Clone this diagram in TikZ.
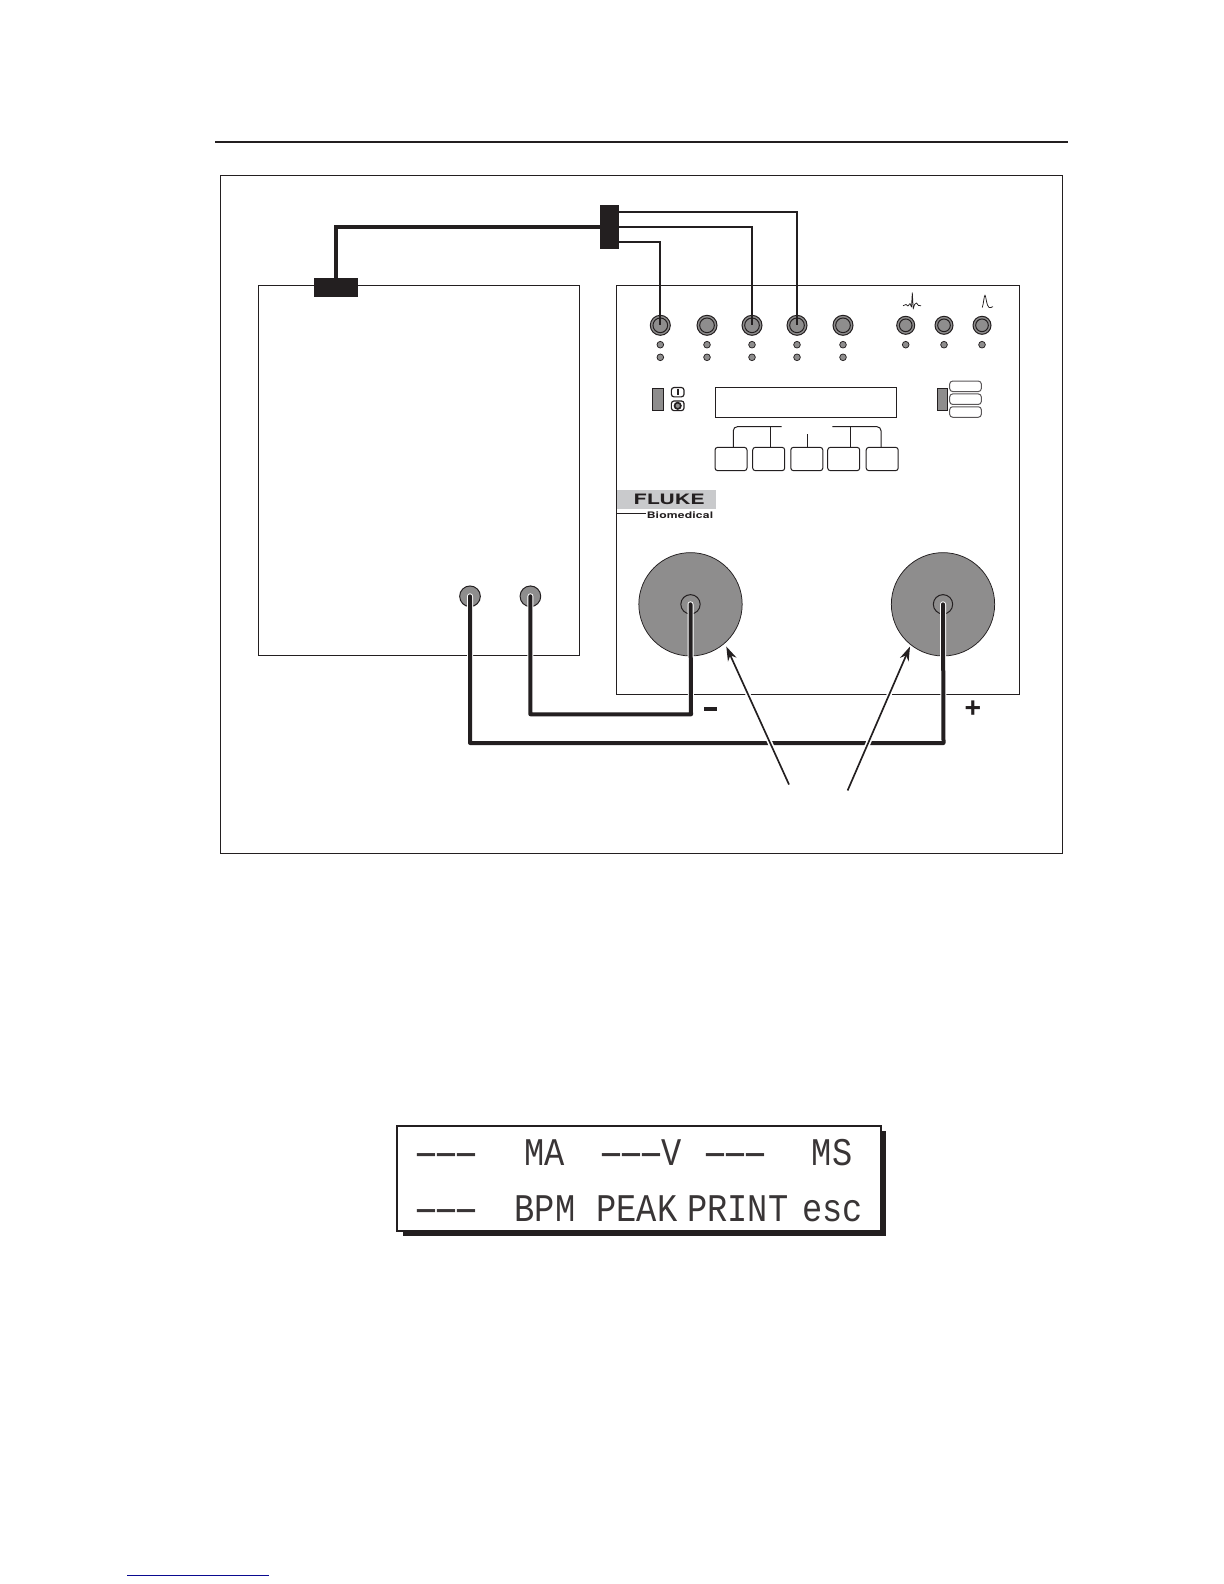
\documentclass[tikz,border=0pt]{standalone}
\usepackage{fontspec}
\usetikzlibrary{arrows.meta,calc}
\setmainfont{Liberation Sans}
\newfontfamily\lcdfont[FakeStretch=0.86]{Liberation Mono}
\newfontfamily\lcddashfont[FakeStretch=1.7]{Liberation Mono}
\newfontfamily\logofont[FakeStretch=1.5]{TeX Gyre Heros}
\newfontfamily\biofont[FakeStretch=1.35,LetterSpace=2]{TeX Gyre Heros}
\newcommand{\lcddash}{\makebox[12pt][c]{\lcddashfont-}}
\newcommand{\lcddashes}{\lcddash\lcddash\lcddash}
\definecolor{ink}{HTML}{231F20}
\definecolor{metal}{HTML}{8E8D8D}
\definecolor{logobg}{HTML}{C9CACC}
\definecolor{linkblue}{HTML}{0A0A90}
\tikzset{
  hair/.style={draw=ink,line width=0.6pt},
  wirethin/.style={draw=ink,line width=1.15pt,line join=miter},
  wirethick/.style={draw=ink,line width=2.4pt,line join=miter},
  wirelead/.style={draw=ink,line width=2.4pt,line join=round,line cap=round},
  halo/.style={draw=white,line width=3.6pt,line join=round,line cap=round},
  pod/.style={rectangle,fill=ink,draw=none,inner sep=0pt},
  jackbig/.style={circle,draw=ink,line width=0.6pt,fill=metal,minimum size=12pt,inner sep=0pt},
  jackring/.style={circle,draw=ink,line width=0.6pt,fill=none,minimum size=8.8pt,inner sep=0pt},
  jacksmall/.style={circle,draw=ink,line width=0.6pt,fill=metal,minimum size=10.8pt,inner sep=0pt},
  jackringsmall/.style={circle,draw=ink,line width=0.6pt,fill=none,minimum size=7.6pt,inner sep=0pt},
  led/.style={circle,draw=ink,line width=0.45pt,fill=metal,minimum size=4pt,inner sep=0pt},
  softkey/.style={rectangle,rounded corners=1.6pt,draw=ink,line width=0.6pt,minimum width=19.2pt,minimum height=14pt,inner sep=0pt},
  pill/.style={rectangle,rounded corners=1.8pt,draw=ink!75,line width=0.6pt,minimum width=19pt,minimum height=6.3pt,inner sep=0pt},
  switch/.style={rectangle,draw=ink,line width=0.6pt,fill=metal,inner sep=0pt},
  post/.style={circle,draw=ink,line width=0.6pt,fill=metal,minimum size=12.4pt,inner sep=0pt},
  pad/.style={circle,draw=ink,line width=0.45pt,fill=metal,minimum size=62pt,inner sep=0pt},
  padcore/.style={circle,draw=ink,line width=0.6pt,fill=metal,minimum size=11.6pt,inner sep=0pt},
  lcdtext/.style={anchor=base,inner sep=0pt,text=ink!90,font=\lcdfont\fontsize{23.5pt}{24pt}\selectfont},
  sign/.style={inner sep=0pt,text=ink,font=\bfseries\fontsize{17pt}{18pt}\selectfont},
  pointer/.style={draw=ink,line width=1pt,-{Stealth[length=8.6pt,width=5.6pt]}},
  pointerhalo/.style={draw=white,line width=3pt},
}
\begin{document}
\begin{tikzpicture}[x=0.6pt,y=-0.6pt]
\useasboundingbox (0,0) rectangle (1224,1584);
\fill[white] (0,0) rectangle (1224,1584);

% header rule and frame
\draw[draw=ink,line width=1.2pt] (215,142.4) -- (1068,142.4);
\draw[hair] (220.3,175.8) rectangle (1062.7,853.6);

% device boxes
\draw[hair] (258.6,285.5) rectangle (579.6,655.6);
\draw[hair] (616.8,285.5) rectangle (1019.5,694.5);

% front panel jacks
\foreach \n/\x in {1/660.3,2/707,3/752,4/797,5/843}{
  \node[jackbig] (j\n) at (\x,325.3) {};
  \node[jackring] (r\n) at (\x,325.3) {};
  \node[led] (la\n) at (\x,344.7) {};
  \node[led] (lb\n) at (\x,357.3) {};
}
\foreach \n/\x in {6/905.7,7/944,8/982}{
  \node[jacksmall] (j\n) at (\x,325.3) {};
  \node[jackringsmall] (r\n) at (\x,325.3) {};
  \node[led] (la\n) at (\x,344.7) {};
}
% waveform glyphs
\draw[draw=ink,line width=0.45pt,line join=round] (903,305.7) -- (906,304.5) -- (908,306) -- (910,303.5) -- (911.5,307) -- (912.3,292.7) -- (913.2,309) -- (914.5,304.5) -- (916.5,303) -- (918.5,305.5) -- (921,305.7);
\draw[draw=ink,line width=0.45pt,line join=round] (982.3,307.5) .. controls (983.5,304) and (984,296) .. (985,295) .. controls (986,296) and (986.5,306) .. (989,307.5) .. controls (990,308) and (991,307.6) .. (993,306.6);

% power switch
\draw[switch] (652.3,388.3) rectangle (663.7,410.7);
\node[rectangle,rounded corners=1.6pt,draw=ink,line width=0.7pt,minimum width=7.6pt,minimum height=5.6pt,inner sep=0pt] (pwon) at (677.7,392.2) {};
\node[rectangle,rounded corners=1.6pt,draw=ink,line width=0.7pt,minimum width=7.6pt,minimum height=5.8pt,inner sep=0pt] (pwoff) at (677.7,405.8) {};
\draw[draw=ink,line width=1pt] (677.7,389) -- (677.7,395.4);
\node[circle,draw=ink,line width=1pt,fill=metal,minimum size=3.8pt,inner sep=0pt] (pwdot) at (677.7,405.8) {};

% display
\draw[hair] (715.3,387.3) rectangle (896.7,417.3);

% mode switch and pills
\draw[switch] (937.7,388.3) rectangle (947.7,410.7);
\node[pill] (p1) at (965.5,386.3) {};
\node[pill] (p2) at (965.5,399.2) {};
\node[pill] (p3) at (965.5,412) {};

% soft keys
\node[softkey] (k1) at (731,459) {};
\node[softkey] (k2) at (768.7,459) {};
\node[softkey] (k3) at (806.8,459) {};
\node[softkey] (k4) at (843.7,459) {};
\node[softkey] (k5) at (882.2,459) {};
\coordinate (bl) at (781.7,426.7);
\coordinate (br) at (832.3,426.7);
\coordinate (km) at (807.3,434);
\draw[hair,rounded corners=2.4pt] (k1.north -| 733.3,0) -- (733.3,426.7) -- (bl);
\draw[hair] (770,426.7) -- (k2.north -| 770,0);
\draw[hair] (km) -- (k3.north -| km);
\draw[hair,rounded corners=2.4pt] (br) -- (881,426.7) -- (k5.north -| 881,0);
\draw[hair] (850,426.7) -- (k4.north -| 850,0);

% logo
\fill[logobg] (617.3,490) rectangle (716,509.3);
\node[inner sep=0pt,anchor=base,text=ink,font=\logofont\bfseries\fontsize{8.6pt}{9pt}\selectfont] (fluke) at (669.2,504.4) {FLUKE};
\draw[draw=ink,line width=0.6pt] (617.3,513.4) -- (645.7,513.4);
\node[inner sep=0pt,anchor=base,text=ink,font=\biofont\bfseries\fontsize{5.4pt}{6pt}\selectfont] (bio) at (680,518.4) {Biomedical};

% electrodes and analyzer posts
\node[pad] (padL) at (690.5,604.3) {};
\node[pad] (padR) at (943,604.3) {};
\node[padcore] (coreL) at (690.5,604.3) {};
\node[padcore] (coreR) at (943,604.3) {};
\node[post] (postA) at (470,596.3) {};
\node[post] (postB) at (530.4,596.3) {};

% connectors on top
\node[pod,minimum width=26.4pt,minimum height=11.2pt] (podL) at (336,287.4) {};
\node[pod,minimum width=11.4pt,minimum height=26.4pt] (podT) at (609.5,227) {};
\draw[wirethick] (podL.north -| 336,0) -- (336,226.7) -- (podT.west |- 0,226.7);
\draw[wirethin] (podT.east |- 0,241.7) -- (660.3,241.7) -- (j1.center);
\draw[wirethin] (podT.east |- 0,226.7) -- (752,226.7) -- (j3.center);
\draw[wirethin] (podT.east |- 0,211.7) -- (797,211.7) -- (j4.center);

% leads with white halo
\draw[halo] (postB.center) -- (530.4,714.3) -- (691,714.3) -- (coreL.center);
\draw[halo] (postA.center) -- (470,743) -- (943.5,743) -- (coreR.center);
\draw[wirelead] (postB.center) -- (530.4,714.3) -- (691,714.3) -- (coreL.center);
\draw[wirelead] (postA.center) -- (470,743) -- (943.5,743) -- (coreR.center);

\node[sign] (minus) at (710.5,709) {\rule{7.8pt}{2pt}};
\node[sign] (plus) at (973,709.5) {+};

% pointers
\coordinate (ta) at (789,784.5);
\coordinate (tb) at (847.6,790.5);
\coordinate (ha) at (726.3,646.5);
\coordinate (hb) at (910,646.5);
\draw[pointerhalo] (ta) -- ($(ta)!0.72!(ha)$);
\draw[pointerhalo] (tb) -- ($(tb)!0.72!(hb)$);
\draw[pointer] (ta) -- (ha);
\draw[pointer] (tb) -- (hb);

% LCD readout
\fill[ink] (402.7,1131) rectangle (886,1236);
\draw[draw=ink,fill=white,line width=1.2pt] (397,1126) rectangle (881,1231);
\node[lcdtext] (a1) at (446.7,1165) {\lcddashes};
\node[lcdtext] (a2) at (544.7,1165) {MA};
\node[lcdtext] (a3) at (641.5,1165) {\lcddashes V};
\node[lcdtext] (a4) at (735,1165) {\lcddashes};
\node[lcdtext] (a5) at (832,1165) {MS};
\node[lcdtext] (b1) at (446.7,1221.7) {\lcddashes};
\node[lcdtext] (b2) at (545,1221.7) {BPM};
\node[lcdtext] (b3) at (637,1221.7) {PEAK};
\node[lcdtext] (b4) at (737.7,1221.7) {PRINT};
\node[lcdtext] (b5) at (832.5,1221.7) {esc};

% footer rule
\draw[draw=linkblue,line width=0.7pt] (127,1575.3) -- (269,1575.3);
\end{tikzpicture}
\end{document}
